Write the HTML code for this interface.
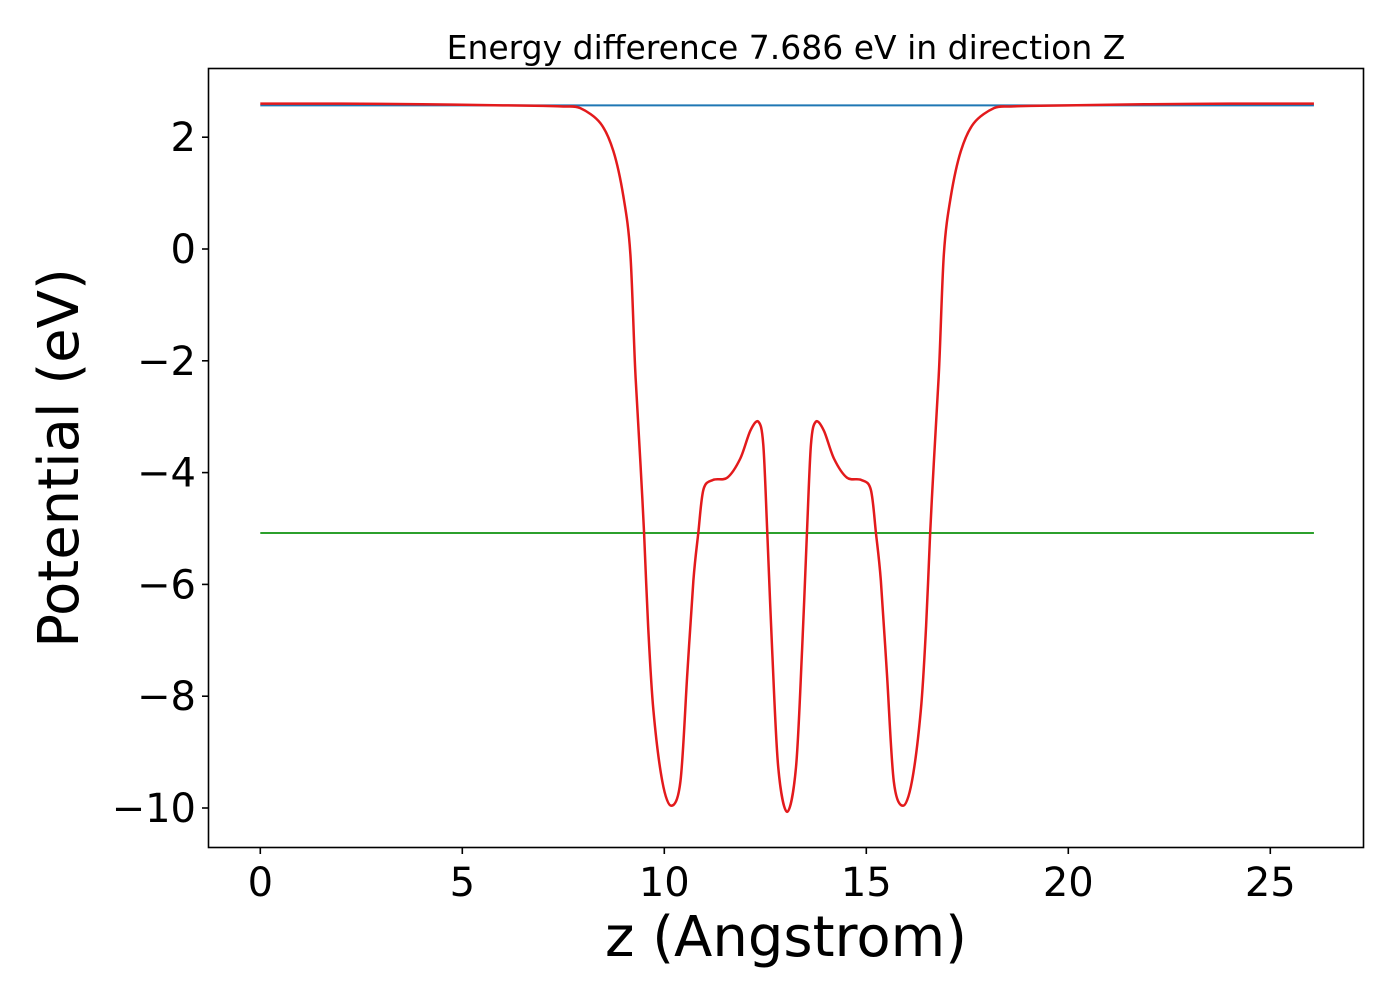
<!DOCTYPE html>
<html><head><meta charset="utf-8"><style>
html,body{margin:0;padding:0;background:#fff}
svg{display:block;font-family:"DejaVu Sans","Liberation Sans",sans-serif}
</style></head><body>
<svg id="chart" width="1400" height="1000">
<rect x="0" y="0" width="1400" height="1000" fill="#fff"/>
<g id="plot"></g>
<rect x="208.5" y="68.5" width="1155" height="779" fill="none" stroke="#000" stroke-width="1.6"/>
<g id="xt"></g>
<g id="yt"></g>
<text x="786" y="59" font-size="33" text-anchor="middle">Energy difference 7.686 eV in direction Z</text>
<text x="786" y="956" font-size="56" text-anchor="middle">z (Angstrom)</text>
<text transform="translate(78,458) rotate(-90)" font-size="56" text-anchor="middle">Potential (eV)</text>
</svg>
<script>
const xTicks=[0,5,10,15,20,25];
const yTicks=[2,0,-2,-4,-6,-8,-10];
const zVals=[0,2,4,6,7,7.5,7.92,8.42,8.74,8.99,9.16,9.28,9.41,9.5,9.6,9.73,9.95,10.17,10.4,10.57,10.72,10.84,10.97,11.21,11.56,11.88,12.13,12.33,12.45,12.55,12.67,12.82,13.04,13.26,13.41,13.53,13.63,13.75,13.95,14.2,14.52,14.87,15.11,15.24,15.36,15.51,15.68,15.91,16.13,16.35,16.48,16.58,16.67,16.8,16.92,17.09,17.34,17.66,18.16,18.58,19.08,20,22,24,26.08];
const potVals=[2.6,2.6,2.59,2.57,2.56,2.55,2.52,2.25,1.75,0.93,-0.09,-2.16,-3.84,-5.09,-6.75,-8.25,-9.52,-9.96,-9.52,-7.59,-5.93,-5.09,-4.3,-4.13,-4.09,-3.75,-3.25,-3.09,-3.5,-5.09,-7.18,-9.27,-10.07,-9.27,-7.18,-5.09,-3.5,-3.09,-3.25,-3.75,-4.09,-4.13,-4.3,-5.09,-5.93,-7.59,-9.52,-9.96,-9.52,-8.25,-6.75,-5.09,-3.84,-2.16,-0.09,0.93,1.75,2.25,2.52,2.55,2.56,2.57,2.59,2.6,2.6];
const vacuumLevel=[2.57];
const fermiLevel=[-5.08];
const zRange=[0,26.08];
const X=v=>260.3+v*40.4;
const Y=v=>249-v*55.9;
const NS="http://www.w3.org/2000/svg";
const plot=document.getElementById('plot');
function mk(tag,attrs,parent){const e=document.createElementNS(NS,tag);for(const k in attrs)e.setAttribute(k,attrs[k]);parent.appendChild(e);return e;}
// vacuum (blue)
let b=mk('line',{x1:X(zRange[0]),x2:X(zRange[1]),y1:Y(vacuumLevel[0]),y2:Y(vacuumLevel[0]),stroke:'#1f77b4','stroke-width':2},plot);


let g=mk('line',{x1:X(zRange[0]),x2:X(zRange[1]),y1:Y(fermiLevel[0]),y2:Y(fermiLevel[0]),stroke:'#2ca02c','stroke-width':2},plot);


// red curve catmull-rom
const pts=zVals.map((z,i)=>[X(z),Y(potVals[i])]);
let d='M'+pts[0][0]+','+pts[0][1];
for(let i=0;i<pts.length-1;i++){const p0=pts[Math.max(i-1,0)],p1=pts[i],p2=pts[i+1],p3=pts[Math.min(i+2,pts.length-1)];
const t=0.16;
d+=` C${p1[0]+(p2[0]-p0[0])*t},${p1[1]+(p2[1]-p0[1])*t} ${p2[0]-(p3[0]-p1[0])*t},${p2[1]-(p3[1]-p1[1])*t} ${p2[0]},${p2[1]}`;}
let r=mk('path',{d:d,fill:'none',stroke:'#e31a1c','stroke-width':2.5},plot);


const xt=document.getElementById('xt');
xTicks.forEach(v=>{
 let l=mk('line',{x1:X(v),x2:X(v),y1:847.5,y2:854,stroke:'#000','stroke-width':1.6},xt);
 
 
 let t=mk('text',{x:X(v),y:896,'font-size':40,'text-anchor':'middle'},xt);t.textContent=v;
 
 
});
const yt=document.getElementById('yt');
yTicks.forEach(v=>{
 let l=mk('line',{x1:202,x2:208.5,y1:Y(v),y2:Y(v),stroke:'#000','stroke-width':1.6},yt);
 
 
 let t=mk('text',{x:196,y:Y(v)+14,'font-size':40,'text-anchor':'end'},yt);t.textContent=(v<0?'\u2212':'')+Math.abs(v);
 
 
});
</script>
</body></html>
